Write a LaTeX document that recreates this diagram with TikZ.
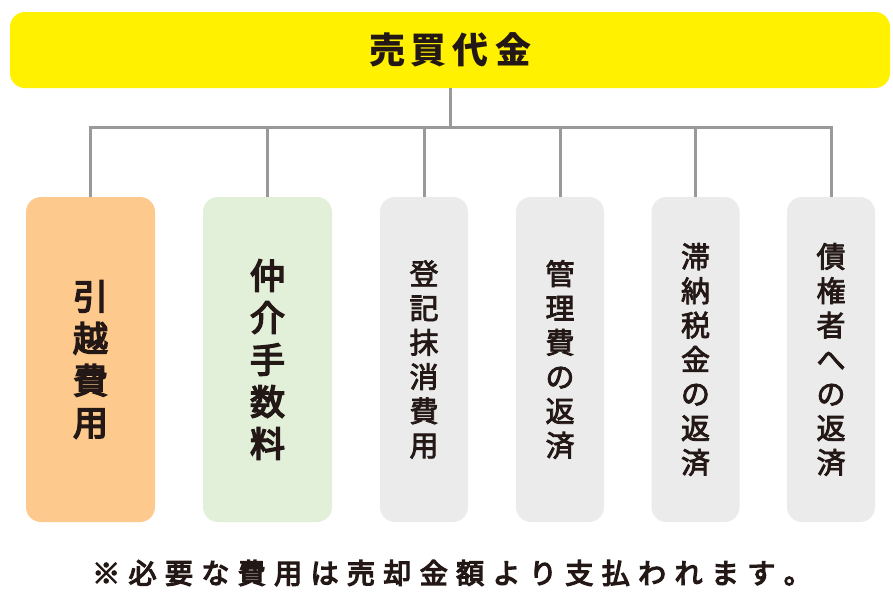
\documentclass[tikz,border=0pt]{standalone}
\usepackage{fontspec}
\setmainfont{Noto Sans CJK JP}
\newfontfamily\jpmid{Noto Sans CJK JP}[FakeBold=4.5]
\newfontfamily\jplite{Noto Sans CJK JP}[FakeBold=2.8]
\definecolor{ttl}{HTML}{FFF100}
\definecolor{orng}{HTML}{FDC98C}
\definecolor{grn}{HTML}{E2EFD9}
\definecolor{gry}{HTML}{EBEBEB}
\definecolor{lne}{HTML}{999999}
\definecolor{ink}{HTML}{231815}
\begin{document}
\begin{tikzpicture}[x=1pt,y=-1pt,
  card/.style={rounded corners=15pt, minimum height=325pt, inner sep=0pt, align=center, text=ink},
  bigcard/.style={card, minimum width=129pt, font=\jpmid\fontsize{35}{42}\selectfont},
  smallcard/.style={card, minimum width=88pt, font=\jplite\fontsize{29}{34.3}\selectfont},
  conn/.style={draw=lne, line width=3pt}]
\fill[white] (0,0) rectangle (893,603);
\node[fill=ttl, rounded corners=15pt, minimum width=880pt, minimum height=76pt, inner sep=0pt,
  text=ink, font=\bfseries\fontsize{36}{40}\selectfont] (top) at (450,50)
  {売\kern6pt 買\kern6pt 代\kern6pt 金};
\node[bigcard, fill=orng] (b1) at (90.5,359.5) {引\\越\\費\\用};
\node[bigcard, fill=grn] (b2) at (267.5,359.5) {仲\\介\\手\\数\\料};
\node[smallcard, fill=gry] (b3) at (424,359.5) {登\\記\\抹\\消\\費\\用};
\node[smallcard, fill=gry] (b4) at (560,359.5) {管\\理\\費\\の\\返\\済};
\node[smallcard, fill=gry] (b5) at (695.5,359.5) {滞\\納\\税\\金\\の\\返\\済};
\node[smallcard, fill=gry] (b6) at (831,359.5) {債\\権\\者\\へ\\の\\返\\済};
\coordinate (j) at (450,127);
\draw[conn] (top.south) -- (j);
\foreach \b in {b1,b2,b3,b4,b5,b6} {\draw[conn] (j) -| (\b.north);}
\node[text=ink, inner sep=0pt, font=\jpmid\fontsize{28}{32}\selectfont] (note) at (452,573)
  {※\kern8.4pt 必\kern8.4pt 要\kern8.4pt な\kern8.4pt 費\kern8.4pt 用\kern8.4pt は\kern8.4pt 売\kern8.4pt 却\kern8.4pt 金\kern8.4pt 額\kern8.4pt よ\kern8.4pt り\kern8.4pt 支\kern8.4pt 払\kern8.4pt わ\kern8.4pt れ\kern8.4pt ま\kern8.4pt す\kern8.4pt 。};
\end{tikzpicture}
\end{document}
